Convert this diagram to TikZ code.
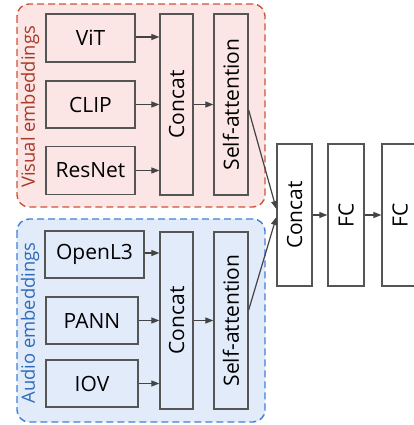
\documentclass[tikz,border=0pt]{standalone}
\usepackage{fontspec}
\setmainfont{Open Sans}
\usetikzlibrary{arrows.meta}
\definecolor{vfill}{HTML}{FBE5E5}
\definecolor{vline}{HTML}{D0533B}
\definecolor{vtext}{HTML}{A83A28}
\definecolor{afill}{HTML}{E1EBFA}
\definecolor{aline}{HTML}{3F7FD9}
\definecolor{atext}{HTML}{2F6CB8}
\definecolor{boxline}{HTML}{555555}
\definecolor{arrcol}{HTML}{444444}
\begin{document}
\begin{tikzpicture}[x=1pt,y=-1pt,
  group/.style={line width=1.4pt,rounded corners=12pt,dash pattern=on 7pt off 4pt},
  blk/.style={draw=boxline,line width=1.3pt,inner sep=0pt,font=\fontsize{21}{25}\selectfont,text=black},
  vblk/.style={blk,rotate=90},
  arr/.style={draw=arrcol,line width=1.2pt,-{Triangle[length=8pt,width=6pt]}},
  grouplabel/.style={rotate=90,font=\fontsize{18.4}{22}\selectfont,inner sep=0pt}]
\useasboundingbox (0,0) rectangle (413,425);
% group backgrounds
\draw[group,draw=vline,fill=vfill] (17,4) rectangle (265,207);
\draw[group,draw=aline,fill=afill] (17,219) rectangle (265,422);
\node[grouplabel,text=vtext] (vlab) at (30,107) {Visual embeddings};
\node[grouplabel,text=atext] (alab) at (30,323) {Audio embeddings};
% visual
\node[blk,minimum width=89pt,minimum height=48pt] (vit) at (90.5,38) {ViT};
\node[blk,minimum width=89pt,minimum height=47pt] (clip) at (90.5,104.5) {CLIP};
\node[blk,minimum width=89pt,minimum height=48pt] (resnet) at (90.5,170.5) {ResNet};
\node[vblk,minimum width=181pt,minimum height=33pt] (cv) at (176.5,104.5) {Concat};
\node[vblk,minimum width=181pt,minimum height=34pt] (sav) at (231,104.5) {Self-attention};
% audio
\node[blk,minimum width=99pt,minimum height=47pt] (openl3) at (94.5,254.5) {OpenL3};
\node[blk,minimum width=92pt,minimum height=47pt] (pann) at (92,320.5) {PANN};
\node[blk,minimum width=92pt,minimum height=47pt] (iov) at (92,383.5) {IOV};
\node[vblk,minimum width=177pt,minimum height=33pt] (ca) at (176.5,320.5) {Concat};
\node[vblk,minimum width=177pt,minimum height=34pt] (saa) at (231,320.5) {Self-attention};
% right
\node[vblk,fill=white,minimum width=142pt,minimum height=35pt] (cr) at (294.5,215) {Concat};
\node[vblk,fill=white,minimum width=142pt,minimum height=36pt] (fc1) at (346,215) {FC};
\node[vblk,fill=white,minimum width=142pt,minimum height=36pt] (fc2) at (400,215) {FC};
% arrows
\draw[arr] ([yshift=1pt]vit.east) -- ([yshift=1pt]vit.east -| cv.north);
\draw[arr] (clip.east) -- (clip.east -| cv.north);
\draw[arr] (resnet.east) -- (resnet.east -| cv.north);
\draw[arr] (cv.south) -- (sav.north);
\draw[arr] ([yshift=1.5pt]openl3.east) -- ([yshift=1.5pt]openl3.east -| ca.north);
\draw[arr] (pann.east) -- (pann.east -| ca.north);
\draw[arr] (iov.east) -- (iov.east -| ca.north);
\draw[arr] (ca.south) -- (saa.north);
\draw[arr] ([yshift=-5.5pt]sav.south) -- ([yshift=6pt]cr.north);
\draw[arr] ([yshift=10.5pt]saa.south) -- ([yshift=-2pt]cr.north);
\draw[arr] (cr.south) -- (fc1.north);
\draw[arr] (fc1.south) -- (fc2.north);
\end{tikzpicture}
\end{document}
